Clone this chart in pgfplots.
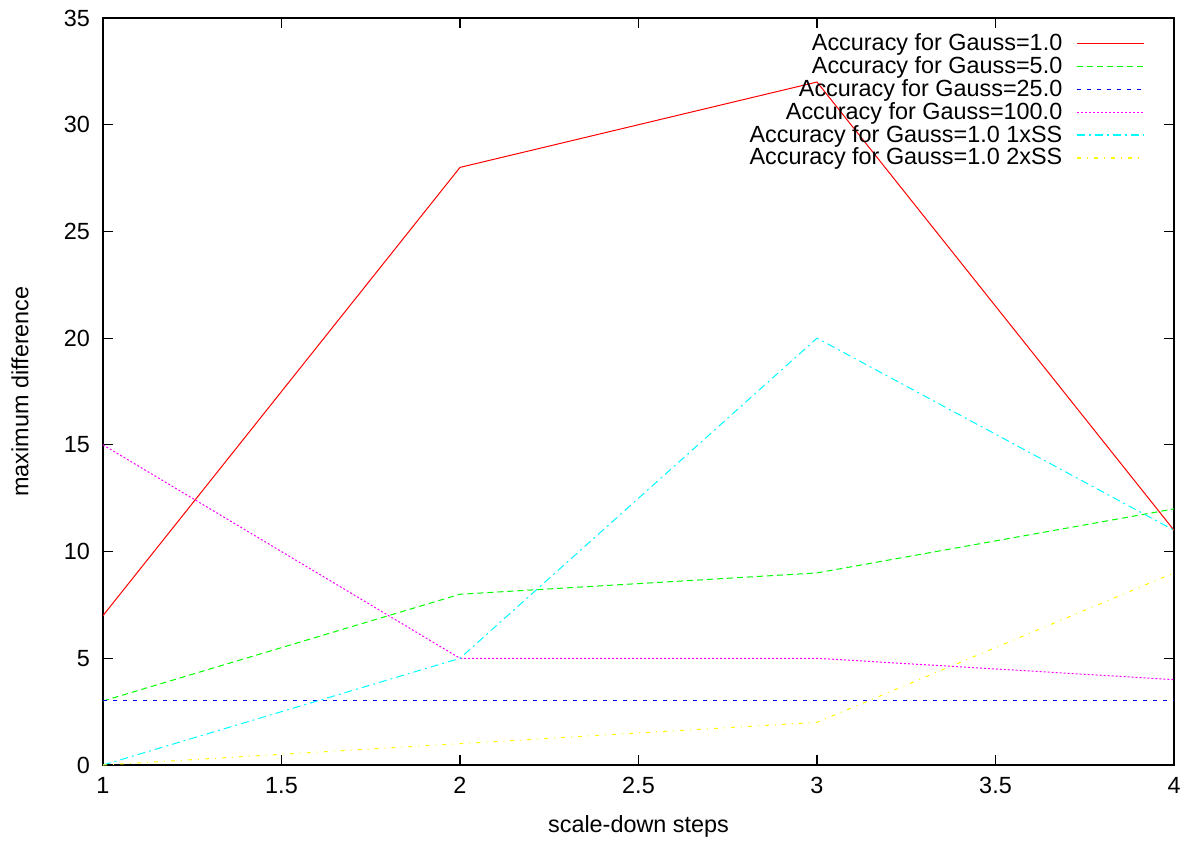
\documentclass[border=0pt]{standalone}
\usepackage{fontspec}
\setmainfont{Liberation Sans}
\usepackage{pgfplots}
\pgfplotsset{compat=1.18}
\definecolor{gred}{RGB}{255,0,0}
\definecolor{ggreen}{RGB}{0,255,0}
\definecolor{gblue}{RGB}{0,0,255}
\definecolor{gmag}{RGB}{255,0,255}
\definecolor{gcyan}{RGB}{0,255,255}
\definecolor{gyel}{RGB}{255,255,0}
\begin{document}
\begin{tikzpicture}
\begin{axis}[
  scale only axis,
  width=535.5pt, height=373.5pt,
  xmin=1, xmax=4, ymin=0, ymax=35,
  xtick={1,1.5,...,4}, ytick={0,5,...,35},
  xticklabels={1,1.5,2,2.5,3,3.5,4},
  tick align=inside,
  major tick length=5pt,
  axis line style={line width=0.6pt},
  tick style={line width=0.6pt, black},
  /pgf/number format/assume math mode=true,
  font=\fontsize{11.7}{14}\selectfont,
  tick label style={font=\fontsize{11.7}{14}\selectfont},
  xticklabel style={yshift=-2.5pt},
  yticklabel style={xshift=-3pt},
  xlabel={scale-down steps},
  ylabel={maximum difference},
  every axis x label/.style={at={([yshift=-30.5pt]axis description cs:0.5,0)}, anchor=center},
  every axis y label/.style={at={([xshift=-41.5pt]axis description cs:0,0.5)}, rotate=90, anchor=center},
  legend cell align=right,
  legend plot pos=right,
  legend style={draw=none, fill=none, at={([xshift=-14.5pt,yshift=-5.5pt]rel axis cs:1,1)}, anchor=north east,
    font=\fontsize{11.7}{14}\selectfont, row sep=-2.5pt, column sep=5pt, inner sep=0pt},
  legend image code/.code={\draw[#1, line width=0.65pt] (0pt,0pt) -- (33.5pt,0pt);},
  every axis plot/.append style={line width=0.5pt},
]
\addplot[gred] coordinates {(1,7) (2,28) (3,32) (4,11)};
\addlegendentry{Accuracy for Gauss=1.0}
\addplot[ggreen, dash pattern=on 3pt off 2pt] coordinates {(1,3) (2,8) (3,9) (4,12)};
\addlegendentry{Accuracy for Gauss=5.0}
\addplot[gblue, dash pattern=on 2pt off 3pt] coordinates {(1,3) (2,3) (3,3) (4,3)};
\addlegendentry{Accuracy for Gauss=25.0}
\addplot[gmag, dash pattern=on 1pt off 1pt] coordinates {(1,15) (2,5) (3,5) (4,4)};
\addlegendentry{Accuracy for Gauss=100.0}
\addplot[gcyan, dash pattern=on 4pt off 2pt on 1pt off 2pt] coordinates {(1,0) (2,5) (3,20) (4,11)};
\addlegendentry{Accuracy for Gauss=1.0 1xSS}
\addplot[gyel, dash pattern=on 2pt off 3pt on 0.5pt off 3pt] coordinates {(1,0) (2,1) (3,2) (4,9)};
\addlegendentry{Accuracy for Gauss=1.0 2xSS}
\coordinate (ll) at (rel axis cs:0,0);
\coordinate (ur) at (rel axis cs:1,1);
\end{axis}
\pgfresetboundingbox
\path ([shift={(-51.5pt,-38pt)}]ll) rectangle ([shift={(12pt,9pt)}]ur);
\end{tikzpicture}
\end{document}
